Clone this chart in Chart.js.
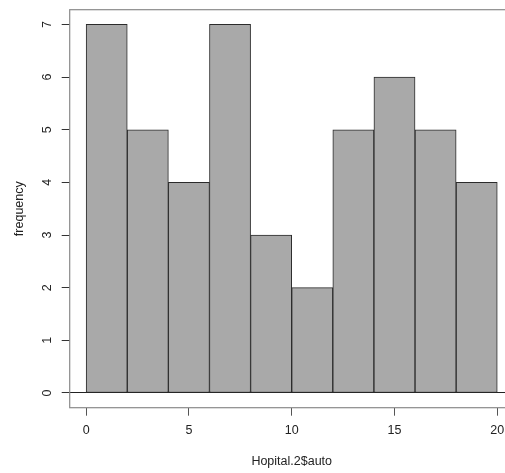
<!DOCTYPE html>
<html>
<head>
<meta charset="utf-8">
<script src="https://cdn.jsdelivr.net/npm/chart.js@4.4.1/dist/chart.umd.min.js"></script>
<style>
  html, body { margin: 0; padding: 0; background: #fff; overflow: hidden; }
  #wrap { width: 505px; height: 473px; overflow: hidden; }
</style>
</head>
<body>
<div id="wrap"><canvas id="hist" width="520" height="473"></canvas></div>
<script>
// histogram of Hopital.2$auto, bins of width 2
const binStarts = [0, 2, 4, 6, 8, 10, 12, 14, 16, 18];
const counts = [7, 5, 4, 7, 3, 2, 5, 6, 5, 4];
const binWidth = 2;
const xTicks = [0, 5, 10, 15, 20];
const yTicks = [0, 1, 2, 3, 4, 5, 6, 7];

const font = {family: "'Liberation Sans', Arial, sans-serif", size: 12.5};

function histData(){
    let points = [];
    for (let i = 0; i < binStarts.length; i++) {
        points.push({x: binStarts[i] + binWidth / 2, y: counts[i]});
    }
    return points;
}

// gray frame around the plot region
const frame = {
    id: 'frame',
    afterDraw(chart){
        const {ctx, chartArea} = chart;
        ctx.save();
        ctx.strokeStyle = '#8a8a8a';
        ctx.lineWidth = 1.2;
        ctx.strokeRect(chartArea.left, chartArea.top, chartArea.right - chartArea.left, chartArea.bottom - chartArea.top);
        ctx.restore();
    }
};

function noPadding(scale){
    scale.paddingTop = 0;
    scale.paddingBottom = 0;
    scale.paddingLeft = 0;
    scale.paddingRight = 0;
}

const ctx = document.getElementById('hist');
const chart = new Chart(ctx, {
    type: 'bar',
    data: {
        datasets: [{
            data: histData(),
            backgroundColor: '#a9a9a9',
            borderColor: '#2b2b2b',
            borderWidth: 1,
            borderSkipped: false,
            barPercentage: 1,
            categoryPercentage: 1
        }]
    },
    options: {
        responsive: false,
        animation: false,
        events: [],
        layout: {padding: {top: 9.7, right: 6.3, left: 0, bottom: 0}},
        plugins: {legend: {display: false}, tooltip: {enabled: false}},
        scales: {
            x: {
                type: 'linear',
                min: -0.8,
                max: 20.8,
                offset: false,
                afterBuildTicks: (scale) => { scale.ticks = xTicks.map(v => ({value: v})); },
                afterFit: (scale) => { scale.height = 65.3; noPadding(scale); },
                grid: {offset: false, drawOnChartArea: false, tickLength: 8, color: '#555', tickWidth: 1},
                border: {display: false},
                ticks: {font: font, color: '#222', padding: 7, maxRotation: 0, autoSkip: false},
                title: {display: true, text: 'Hopital.2$auto', font: font, color: '#222', padding: {top: 0, bottom: 4}}
            },
            y: {
                min: -0.28,
                max: 7.28,
                afterBuildTicks: (scale) => { scale.ticks = yTicks.map(v => ({value: v})); },
                afterFit: (scale) => { scale.width = 69.7; noPadding(scale); },
                grid: {
                    drawOnChartArea: true,
                    tickLength: 8,
                    tickColor: '#333',
                    color: (c) => (c.tick && c.tick.value === 0 ? '#222' : 'rgba(0,0,0,0)'),
                    lineWidth: 1
                },
                border: {display: false},
                ticks: {font: font, color: '#222', padding: 11, minRotation: 90, maxRotation: 90, crossAlign: 'center', autoSkip: false},
                title: {display: true, text: 'frequency', font: font, color: '#222', padding: {top: 12, bottom: 0}}
            }
        }
    },
    plugins: [frame]
});
</script>
</body>
</html>
